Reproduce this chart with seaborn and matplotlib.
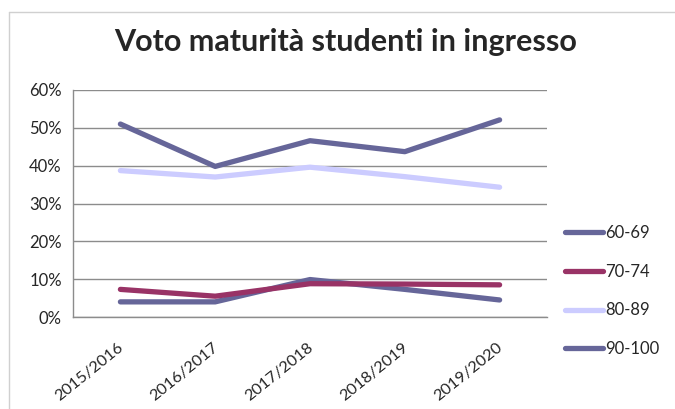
import matplotlib
matplotlib.use('Agg')
import matplotlib.pyplot as plt
import matplotlib.transforms as mtransforms
from matplotlib.lines import Line2D
from matplotlib.ticker import PercentFormatter, FixedLocator
import seaborn as sns
import pandas as pd

# Data (share of incoming students)
years = ['2015/2016', '2016/2017', '2017/2018', '2018/2019', '2019/2020']
groups = ['60-69', '70-74', '80-89', '90-100']
v_60_69 = [0.040, 0.040, 0.099, 0.073, 0.045]
v_70_74 = [0.073, 0.055, 0.088, 0.087, 0.085]
v_80_89 = [0.387, 0.370, 0.396, 0.371, 0.343]
v_90_100 = [0.510, 0.398, 0.466, 0.437, 0.521]
colors = ['#666699', '#993366', '#CCCCFF', '#666699']

df = pd.DataFrame({'anno': years * 4,
                   'fascia': [g for g in groups for _ in years],
                   'quota': v_60_69 + v_70_74 + v_80_89 + v_90_100})
df['pos'] = df['anno'].map({y: i for i, y in enumerate(years)})

sns.set_style('white')
plt.rcParams['font.family'] = ['Lato', 'DejaVu Sans']

fig = plt.figure(figsize=(6.75, 4.09), dpi=100)
ax = fig.add_axes([73 / 675, 1 - 317 / 409, 474 / 675, 227 / 409])

sns.lineplot(data=df, x='pos', y='quota', hue='fascia', palette=colors,
             linewidth=3.8, ax=ax, legend=True, sort=False,
             solid_capstyle='round')

ax.set_xlim(-0.5, len(years) - 0.5)
ax.set_ylim(0, 0.6)
ax.set_yticks([0, 0.1, 0.2, 0.3, 0.4, 0.5, 0.6])
ax.yaxis.set_major_formatter(PercentFormatter(1.0, decimals=0))
ax.grid(axis='y', color='#8c8c8c', linewidth=1)
ax.set_axisbelow(True)

ax.set_xticks(range(len(years)))
ax.set_xticklabels(years, rotation=39, ha='right', rotation_mode='anchor',
                   fontsize=11.8)
ax.xaxis.set_minor_locator(FixedLocator([i - 0.5 for i in range(len(years) + 1)]))
ax.tick_params(axis='x', which='major', length=0, pad=17)
ax.tick_params(axis='x', which='minor', length=5, color='#8c8c8c', width=1)
ax.tick_params(axis='y', length=5, color='#8c8c8c', width=1, labelsize=12, pad=3)
offset = mtransforms.ScaledTranslation(-3 / 100, 0, fig.dpi_scale_trans)
for lab in ax.get_xticklabels():
    lab.set_transform(lab.get_transform() + offset)

ax.set_xlabel('')
ax.set_ylabel('')
for s in ['top', 'right']:
    ax.spines[s].set_visible(False)
for s in ['left', 'bottom']:
    ax.spines[s].set_color('#8c8c8c')
    ax.spines[s].set_linewidth(1)

handles, labels = ax.get_legend_handles_labels()
ax.legend(handles, labels, loc='upper left', bbox_to_anchor=(560 / 675, 1 - 220 / 409),
          bbox_transform=fig.transFigure, frameon=False, fontsize=12,
          handlelength=2.3, handletextpad=0.1, labelspacing=1.36,
          borderaxespad=0, borderpad=0.3)

fig.suptitle('Voto maturità studenti in ingresso', x=346 / 675, y=1 - 28 / 409,
             fontsize=22, fontweight='bold', va='top')

# light chart frame
fig.add_artist(Line2D([9 / 675, 9 / 675], [0, 1 - 12 / 409], color='#d0d0d0', lw=1,
                      transform=fig.transFigure))
fig.add_artist(Line2D([9 / 675, 1], [1 - 12 / 409, 1 - 12 / 409], color='#d0d0d0', lw=1,
                      transform=fig.transFigure))

fig.savefig('out.png', dpi=100)
